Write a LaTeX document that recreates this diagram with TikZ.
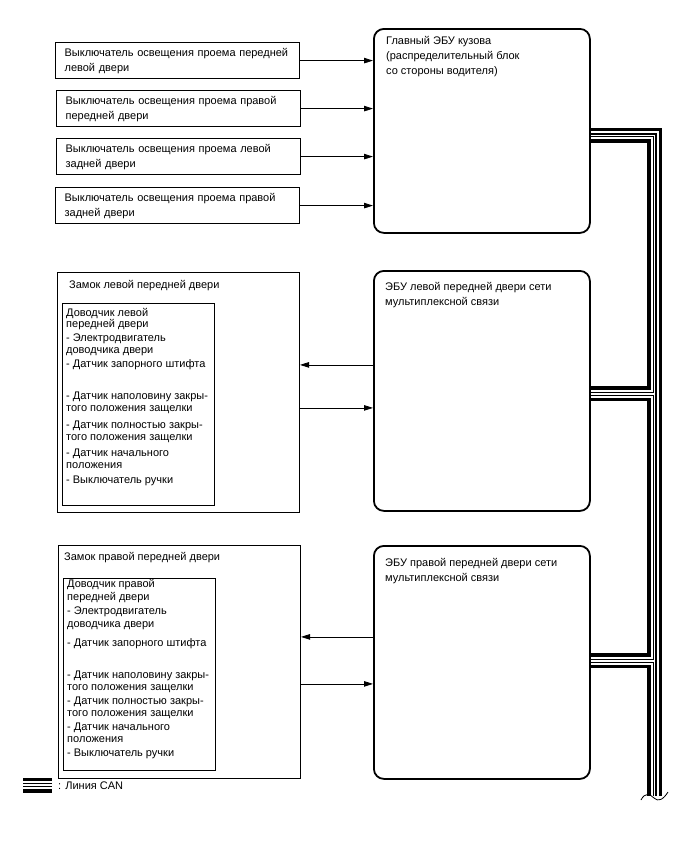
\documentclass[tikz,border=0pt]{standalone}
\usepackage{fontspec}
\setmainfont{Liberation Sans}
\usetikzlibrary{arrows.meta,positioning}

\begin{document}
\begin{tikzpicture}[x=1pt,y=-1pt,>={Triangle[length=9pt,width=5.5pt]},
  font=\fontsize{11}{15}\selectfont,
  swbox/.style={draw,line width=1.2pt,anchor=north west,align=left,text width=226pt,inner xsep=9pt,minimum height=36pt},
  ecubox/.style={draw,line width=1.8pt,rounded corners=10pt,anchor=north west,minimum width=216pt},
  lockbox/.style={draw,line width=1pt,anchor=north west,minimum width=242pt},
  innerbox/.style={draw,line width=1pt,anchor=north west,minimum width=152pt},
  txt/.style={anchor=north west,align=left,inner sep=0pt},
  list/.style={txt,font=\fontsize{11}{11.5}\selectfont},
  sig/.style={->,line width=0.8pt}]
\useasboundingbox (0,0) rectangle (688,852);

% door courtesy light switches
\node[swbox] (sw1) at (55,42) {Выключатель освещения проема передней\\левой двери};
\node[swbox] (sw2) at (56,90) {Выключатель освещения проема правой\\передней двери};
\node[swbox] (sw3) at (56,138) {Выключатель освещения проема левой\\задней двери};
\node[swbox] (sw4) at (55,187) {Выключатель освещения проема правой\\задней двери};

% ECUs
\node[ecubox,minimum height=204pt] (ecu1) at (373,28) {};
\node[ecubox,minimum height=240pt] (ecu2) at (373,270) {};
\node[ecubox,minimum height=233pt] (ecu3) at (373,545) {};
\node[txt,below right=8pt and 13pt of ecu1.north west] (ecu1t) {Главный ЭБУ кузова\\(распределительный блок\\со стороны водителя)};
\node[txt,below right=12pt and 12pt of ecu2.north west] (ecu2t) {ЭБУ левой передней двери сети\\мультиплексной связи};
\node[txt,below right=13pt and 12pt of ecu3.north west] (ecu3t) {ЭБУ правой передней двери сети\\мультиплексной связи};

% door locks
\node[lockbox,minimum height=240pt] (lockL) at (57,272) {};
\node[txt,below right=8pt and 12pt of lockL.north west] (lockLt) {Замок левой передней двери};
\node[innerbox,minimum height=202pt] (closerL) at (62,303) {};
\node[list,below right=5pt and 4pt of closerL.north west] (closerLt) {Доводчик левой\\передней двери\\[2.5pt]
- Электродвигатель\\[.5pt]доводчика двери\\[2.5pt]- Датчик запорного штифта\\[20.5pt]
- Датчик наполовину закры-\\того положения защелки\\[5.5pt]- Датчик полностью закры-\\[.5pt]
того положения защелки\\[4.5pt]- Датчик начального\\[.5pt]положения\\[3.5pt]- Выключатель ручки};

\node[lockbox,minimum height=233pt] (lockR) at (58,545) {};
\node[txt,below right=7pt and 6pt of lockR.north west] (lockRt) {Замок правой передней двери};
\node[innerbox,minimum height=192pt] (closerR) at (63,578) {};
\node[list,below right=1pt and 4pt of closerR.north west] (closerRt) {Доводчик правой\\[1.5pt]передней двери\\[2.5pt]
- Электродвигатель\\[1.5pt]доводчика двери\\[7.5pt]- Датчик запорного штифта\\[20.5pt]
- Датчик наполовину закры-\\[.5pt]того положения защелки\\[2.5pt]- Датчик полностью закры-\\[.5pt]
того положения защелки\\[2.5pt]- Датчик начального\\[.5pt]положения\\[2.5pt]- Выключатель ручки};

% signal lines
\foreach \s in {sw1,sw2,sw3,sw4}
  \draw[sig] (\s.east) -- (\s.east -| ecu1.west);
\coordinate (l2out) at ([yshift=26pt]ecu2.west);
\coordinate (l2in) at ([yshift=-17pt]ecu2.west);
\coordinate (l3out) at ([yshift=25.5pt]ecu3.west);
\coordinate (l3in) at ([yshift=-21.5pt]ecu3.west);
\draw[sig] (l2out) -- (l2out -| lockL.east);
\draw[sig] (l2in -| lockL.east) -- (l2in);
\draw[sig] (l3out) -- (l3out -| lockR.east);
\draw[sig] (l3in -| lockR.east) -- (l3in);

% CAN bus
\coordinate (can1) at ([yshift=-4.5pt]ecu1.east);
\coordinate (can2) at ([yshift=-3pt]ecu2.east);
\coordinate (can3) at ([yshift=1.5pt]ecu3.east);
\coordinate (canend) at (654.5,796);
\coordinate (lgA) at (23,785);
\coordinate (lgB) at (52,785);
\foreach \w/\c in {15/black,8/white,4/black,1.5/white}
  \draw[line width=\w pt,\c] (can1) -- (can1 -| canend) -- (canend)
    (can2) -- (can2 -| canend) (can3) -- (can3 -| canend) (lgA) -- (lgB);
\draw[line width=.8pt] (641,800) .. controls (645,792) and (650,794) .. (654,798)
  .. controls (658,802) and (663,800) .. (668,792);
\node[txt,anchor=west] (lgtxt) at (58,786) {: Линия CAN};
\end{tikzpicture}
\end{document}
